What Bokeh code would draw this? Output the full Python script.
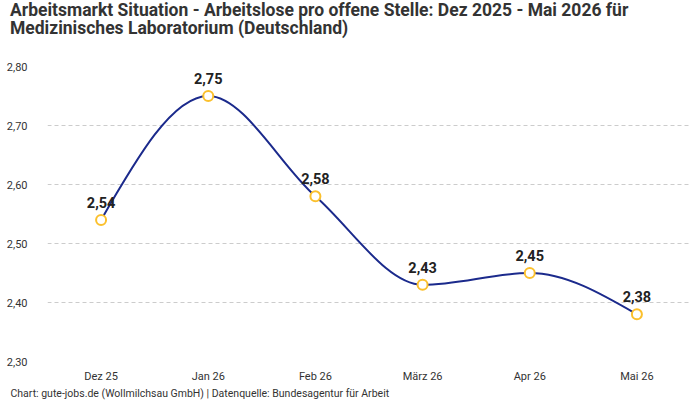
from bokeh.plotting import figure
from bokeh.layouts import column
from bokeh.models import ColumnDataSource, FixedTicker, Title, Range1d, Div
from bokeh.core.properties import value
from bokeh.embed import file_html
from bokeh.resources import INLINE

months = ["Dez 25", "Jan 26", "Feb 26", "März 26", "Apr 26", "Mai 26"]
values = [2.54, 2.75, 2.58, 2.43, 2.45, 2.38]
labels = ["2,54", "2,75", "2,58", "2,43", "2,45", "2,38"]
y_ticks = [2.3, 2.4, 2.5, 2.6, 2.7, 2.8]
y_tick_labels = ["2,30", "2,40", "2,50", "2,60", "2,70", "2,80"]
title_lines = ["Arbeitsmarkt Situation - Arbeitslose pro offene Stelle: Dez 2025 - Mai 2026 für",
               "Medizinisches Laboratorium (Deutschland)"]
footer = "Chart: gute-jobs.de (Wollmilchsau GmbH) | Datenquelle: Bundesagentur für Arbeit"

FONT = "Roboto"
xs = list(range(len(months)))

# monotone cubic (as d3 curveMonotoneX) tangents
def tangents(x, y):
    n = len(x)
    s = [(y[i + 1] - y[i]) / (x[i + 1] - x[i]) for i in range(n - 1)]
    t = [0.0] * n
    for i in range(1, n - 1):
        h0 = x[i] - x[i - 1]
        h1 = x[i + 1] - x[i]
        s0, s1 = s[i - 1], s[i]
        p = (s0 * h1 + s1 * h0) / (h0 + h1)
        sg = (1 if s0 > 0 else -1 if s0 < 0 else 0) + (1 if s1 > 0 else -1 if s1 < 0 else 0)
        t[i] = sg * min(abs(s0), abs(s1), 0.5 * abs(p))
    t[0] = (3 * s[0] - t[1]) / 2
    t[-1] = (3 * s[-1] - t[-2]) / 2
    return t

t = tangents(xs, values)
bz = dict(x0=[], y0=[], x1=[], y1=[], cx0=[], cy0=[], cx1=[], cy1=[])
for i in range(len(xs) - 1):
    dx = (xs[i + 1] - xs[i]) / 3
    bz["x0"].append(xs[i]); bz["y0"].append(values[i])
    bz["x1"].append(xs[i + 1]); bz["y1"].append(values[i + 1])
    bz["cx0"].append(xs[i] + dx); bz["cy0"].append(values[i] + dx * t[i])
    bz["cx1"].append(xs[i + 1] - dx); bz["cy1"].append(values[i + 1] - dx * t[i + 1])

title_div = Div(text="<br>".join(title_lines), width=700, height=40, margin=0,
                styles={"font-family": FONT, "font-size": "17.5px", "font-weight": "bold",
                        "line-height": "18px", "color": "#333333",
                        "padding": "1px 0 0 10px", "white-space": "nowrap"})

p = figure(width=700, height=360, output_backend="svg", toolbar_location=None,
           x_range=Range1d(-0.5, len(months) - 0.5), y_range=Range1d(2.3, 2.8),
           min_border_left=47, min_border_right=10, min_border_top=26, min_border_bottom=39,
           margin=0)
p.outline_line_color = None
p.background_fill_color = "white"
p.border_fill_color = "white"

p.xgrid.grid_line_color = None
p.ygrid.grid_line_color = "#cccccc"
p.ygrid.grid_line_dash = "4 3"
p.ygrid.grid_line_width = 1

p.yaxis.ticker = FixedTicker(ticks=y_ticks)
p.yaxis.major_label_overrides = {v: l for v, l in zip(y_ticks, y_tick_labels)}
p.xaxis.ticker = FixedTicker(ticks=xs)
p.xaxis.major_label_overrides = {i: m for i, m in zip(xs, months)}
for ax in (p.xaxis[0], p.yaxis[0]):
    ax.axis_line_color = None
    ax.major_tick_line_color = None
    ax.minor_tick_line_color = None
    ax.major_label_text_font = FONT
    ax.major_label_text_font_size = "11px"
    ax.major_label_text_color = "#333333"
p.yaxis.major_label_standoff = 14
p.xaxis.major_label_standoff = 2

p.bezier(x0="x0", y0="y0", x1="x1", y1="y1", cx0="cx0", cy0="cy0", cx1="cx1", cy1="cy1",
         source=ColumnDataSource(bz), line_color="#1b2a8c", line_width=2)

src = ColumnDataSource(dict(x=xs, y=values, lab=labels))
p.scatter("x", "y", source=src, size=10, fill_color="white", line_color="#fbc02d", line_width=2)
p.text("x", "y", text="lab", source=src, text_font=value(FONT), text_font_style="bold",
       text_font_size="14.5px", text_color="#222222", text_align="center",
       text_baseline="bottom", y_offset=-12)

p.add_layout(Title(text=footer, align="left", offset=-37, text_font=FONT,
                   text_font_style="normal", text_font_size="10.5px", text_color="#333333",
                   standoff=-1), "below")

layout = column(title_div, p, spacing=0, margin=0)
open("out.html", "w").write(file_html(layout, INLINE))
